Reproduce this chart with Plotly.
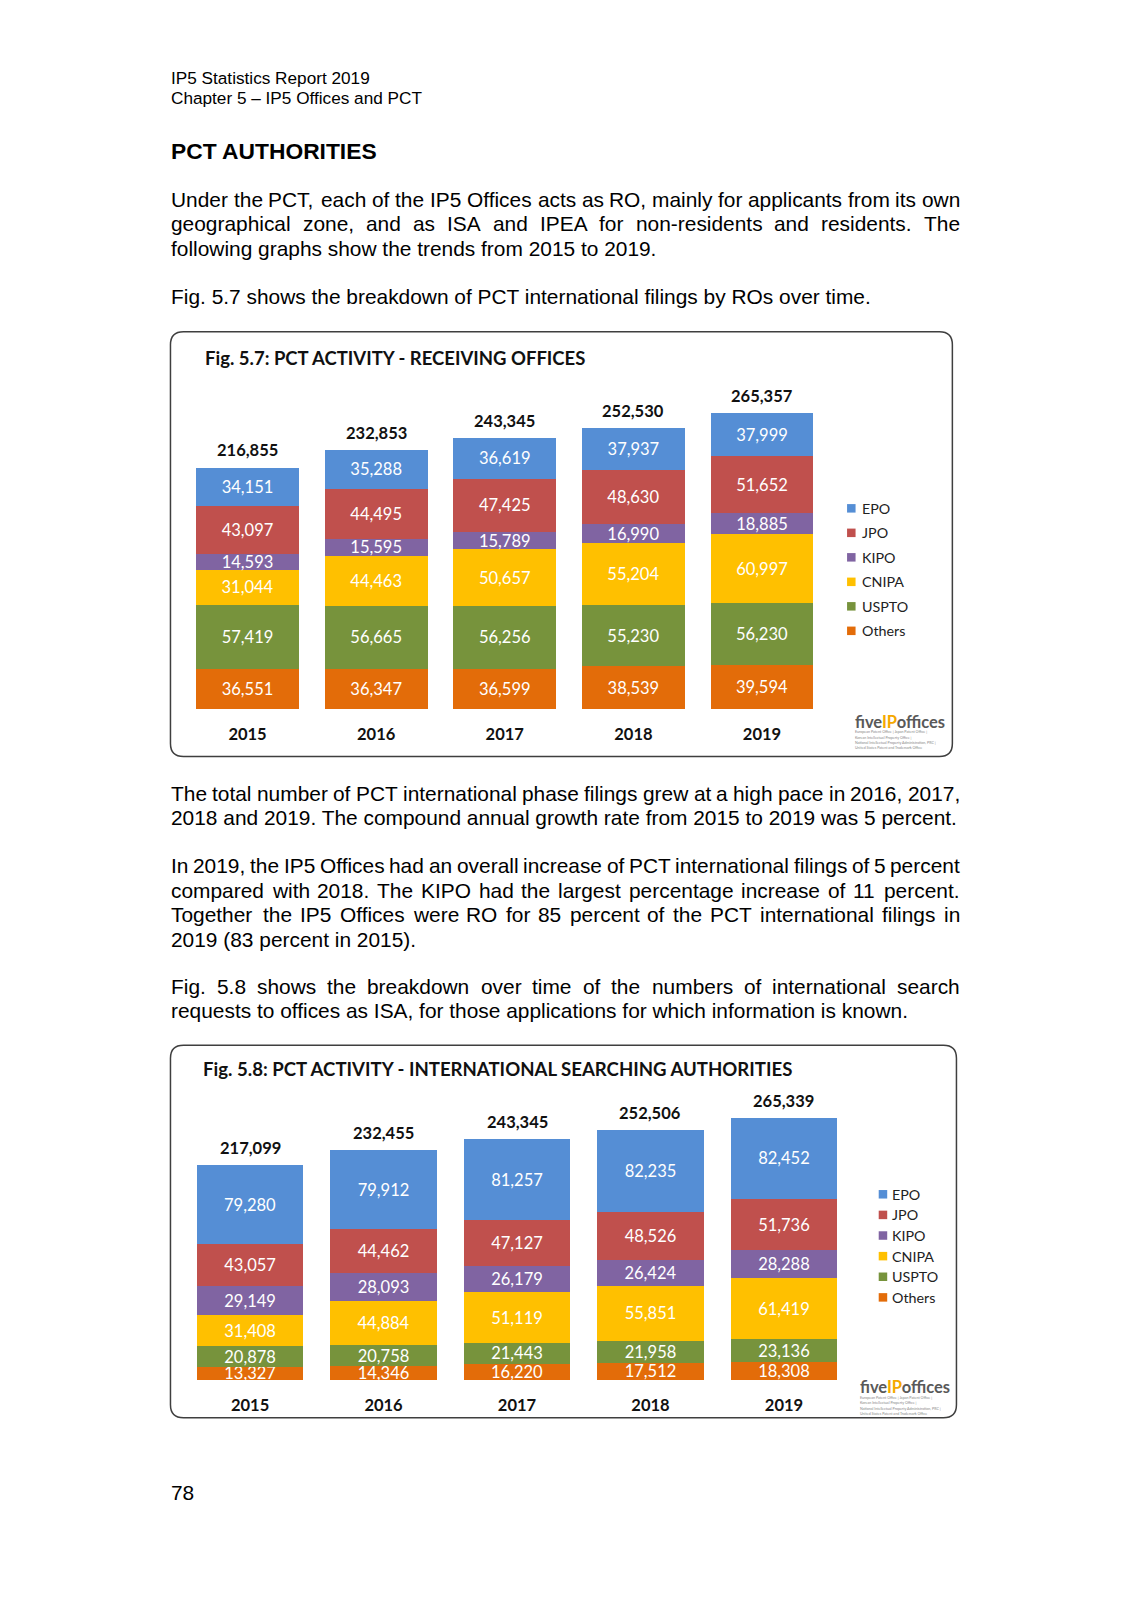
import plotly.graph_objects as go

W, H = 1131, 1600
S = 1131 / 1108.0  # perceived -> true pixel factor

def X(x):  # true px -> paper
    return x / W

def Y(y):
    return 1 - y / H

def p(v):  # perceived estimate -> true px
    return v * S

# ---------------- data ----------------
years = ["2015", "2016", "2017", "2018", "2019"]
offices = ["EPO", "JPO", "KIPO", "CNIPA", "USPTO", "Others"]
colors = {"EPO": "#558ED5", "JPO": "#C0504D", "KIPO": "#8064A2",
          "CNIPA": "#FFC000", "USPTO": "#77933C", "Others": "#E36C09"}

ro_epo = [34151, 35288, 36619, 37937, 37999]
ro_jpo = [43097, 44495, 47425, 48630, 51652]
ro_kipo = [14593, 15595, 15789, 16990, 18885]
ro_cnipa = [31044, 44463, 50657, 55204, 60997]
ro_uspto = [57419, 56665, 56256, 55230, 56230]
ro_others = [36551, 36347, 36599, 38539, 39594]

isa_epo = [79280, 79912, 81257, 82235, 82452]
isa_jpo = [43057, 44462, 47127, 48526, 51736]
isa_kipo = [29149, 28093, 26179, 26424, 28288]
isa_cnipa = [31408, 44884, 51119, 55851, 61419]
isa_uspto = [20878, 20758, 21443, 21958, 23136]
isa_others = [13327, 14346, 16220, 17512, 18308]

ro = {"EPO": ro_epo, "JPO": ro_jpo, "KIPO": ro_kipo, "CNIPA": ro_cnipa,
      "USPTO": ro_uspto, "Others": ro_others}
isa = {"EPO": isa_epo, "JPO": isa_jpo, "KIPO": isa_kipo, "CNIPA": isa_cnipa,
       "USPTO": isa_uspto, "Others": isa_others}

title1 = "Fig. 5.7: PCT ACTIVITY - RECEIVING OFFICES"
title2 = "Fig. 5.8: PCT ACTIVITY - INTERNATIONAL SEARCHING AUTHORITIES"

header1 = "IP5 Statistics Report 2019"
header2 = "Chapter 5 \u2013 IP5 Offices and PCT"
heading = "PCT AUTHORITIES"
page_no = "78"

# (text, perceived y, justified)
body_lines = [
    ("Under the PCT, each of the IP5 Offices acts as RO, mainly for applicants from its own", 195, True),
    ("geographical zone, and as ISA and IPEA for non-residents and residents. The", 219, True),
    ("following graphs show the trends from 2015 to 2019.", 243, False),
    ("Fig. 5.7 shows the breakdown of PCT international filings by ROs over time.", 290, False),
    ("The total number of PCT international phase filings grew at a high pace in 2016, 2017,", 777, True),
    ("2018 and 2019. The compound annual growth rate from 2015 to 2019 was 5 percent.", 801, False),
    ("In 2019, the IP5 Offices had an overall increase of PCT international filings of 5 percent", 848, True),
    ("compared with 2018. The KIPO had the largest percentage increase of 11 percent.", 872, True),
    ("Together the IP5 Offices were RO for 85 percent of the PCT international filings in", 896, True),
    ("2019 (83 percent in 2015).", 920, False),
    ("Fig. 5.8 shows the breakdown over time of the numbers of international search", 966, True),
    ("requests to offices as ISA, for those applications for which information is known.", 990, False),
]

# Arial / Liberation Sans advance widths (1/1000 em)
AW = {' ': 278, ',': 278, '.': 278, '-': 333, '(': 333, ')': 333, ':': 278, '\u2013': 556,
      'A': 667, 'B': 667, 'C': 722, 'D': 722, 'E': 667, 'F': 611, 'G': 778, 'H': 722, 'I': 278,
      'J': 500, 'K': 667, 'L': 556, 'M': 833, 'N': 722, 'O': 778, 'P': 667, 'Q': 778, 'R': 722,
      'S': 667, 'T': 611, 'U': 722, 'V': 667, 'W': 944, 'X': 667, 'Y': 667, 'Z': 611,
      'a': 556, 'b': 556, 'c': 500, 'd': 556, 'e': 556, 'f': 278, 'g': 556, 'h': 556, 'i': 222,
      'j': 222, 'k': 500, 'l': 222, 'm': 833, 'n': 556, 'o': 556, 'p': 556, 'q': 556, 'r': 333,
      's': 500, 't': 278, 'u': 556, 'v': 500, 'w': 722, 'x': 500, 'y': 500, 'z': 500}
for d in "0123456789":
    AW[d] = 556

def tw(s, f):
    return sum(AW.get(c, 556) for c in s) * f / 1000.0

BODY = "Liberation Sans, Arial, sans-serif"
CHART = "Lato, sans-serif"
L_COL, R_COL = 171.0, 960.0
F_BODY = 20.9

fig = go.Figure()
annotations = []
shapes = []

def txt(x, y, text, size, family=BODY, color="black", xanchor="left", weight="normal", **kw):
    annotations.append(dict(x=X(x), y=Y(y), xref="paper", yref="paper", text=text,
                            showarrow=False, xanchor=xanchor, yanchor="middle",
                            borderpad=0, borderwidth=0,
                            font=dict(family=family, size=size, color=color, weight=weight), **kw))

# ---------------- page text ----------------
txt(L_COL, p(76), header1, 17.2)
txt(L_COL, p(96), header2, 17.2)
txt(L_COL, p(148), heading, 22.8, weight="bold")
txt(L_COL, p(1462), page_no, 20.9)

for line, yv, just in body_lines:
    y = p(yv)
    if not just:
        txt(L_COL, y, line, F_BODY)
        continue
    words = line.split(" ")
    total = sum(tw(w, F_BODY) for w in words)
    gap = (R_COL - L_COL - total) / (len(words) - 1)
    x = L_COL
    for w in words:
        txt(x, y, w, F_BODY)
        x += tw(w, F_BODY) + gap

# ---------------- chart frames ----------------
def rrect(x0, y0, x1, y1, r):
    return (f"M {X(x0 + r)},{Y(y0)} L {X(x1 - r)},{Y(y0)} "
            f"Q {X(x1)},{Y(y0)} {X(x1)},{Y(y0 + r)} L {X(x1)},{Y(y1 - r)} "
            f"Q {X(x1)},{Y(y1)} {X(x1 - r)},{Y(y1)} L {X(x0 + r)},{Y(y1)} "
            f"Q {X(x0)},{Y(y1)} {X(x0)},{Y(y1 - r)} L {X(x0)},{Y(y0 + r)} "
            f"Q {X(x0)},{Y(y0)} {X(x0 + r)},{Y(y0)} Z")

for (x0, y0, x1, y1) in [(167, 325, 933, 741), (167, 1024, 937, 1389)]:
    shapes.append(dict(type="path", xref="paper", yref="paper",
                       path=rrect(p(x0), p(y0), p(x1), p(y1), 13),
                       line=dict(color="#3F3F3F", width=1.5), fillcolor="rgba(0,0,0,0)"))

txt(p(201), p(351), title1, 18.5, family=CHART, weight="bold", color="#111111")
txt(p(199), p(1047), title2, 18.6, family=CHART, weight="bold", color="#111111")

# ---------------- bars ----------------
stack_order = ["Others", "USPTO", "CNIPA", "KIPO", "JPO", "EPO"]
LBL = 16.2 * S

def add_chart(data, xa, ya):
    for off in stack_order:
        vals = data[off]
        fig.add_trace(go.Bar(
            x=years, y=vals, name=off, marker=dict(color=colors[off], line=dict(width=0)),
            text=[f"{v:,}" for v in vals], textposition="inside", insidetextanchor="middle",
            textangle=0, constraintext="none",
            textfont=dict(family=CHART, size=LBL, color="white"),
            xaxis=xa, yaxis=ya, showlegend=False, hoverinfo="skip"))
    totals = [sum(data[o][i] for o in offices) for i in range(len(years))]
    for i, t in enumerate(totals):
        annotations.append(dict(x=i, y=t, xref=xa, yref=ya, text=f"{t:,}", showarrow=False,
                                xanchor="center", yanchor="bottom", yshift=5 * S,
                                font=dict(family=CHART, size=16.2 * S, color="#111111", weight="bold")))

add_chart(ro, "x", "y")
add_chart(isa, "x2", "y2")

# ---------------- legends ----------------
def legend(x_sq, x_txt, y0, dy, sq):
    for i, off in enumerate(offices):
        y = p(y0 + i * dy)
        shapes.append(dict(type="rect", xref="paper", yref="paper",
                           x0=X(p(x_sq) - sq / 2), x1=X(p(x_sq) + sq / 2),
                           y0=Y(y - sq / 2), y1=Y(y + sq / 2),
                           fillcolor=colors[off], line=dict(width=0)))
        txt(p(x_txt), y, off, 14.3, family=CHART, color="#222222")

legend(834, 844, 498, 24, 8.5)
legend(865, 874, 1170, 20.2, 8.5)

# ---------------- logos ----------------
logo = ("<span style='color:#595959'>five</span><span style='color:#F5A800'>IP</span>"
        "<span style='color:#595959'>offices</span>")
tiny = ["European Patent Office | Japan Patent Office |",
        "Korean Intellectual Property Office |",
        "National Intellectual Property Administration, PRC |",
        "United States Patent and Trademark Office"]

def add_logo(x, y):
    txt(p(x), p(y), logo, 16.5, family=CHART, weight="bold")
    for i, t in enumerate(tiny):
        txt(p(x), p(y + 10 + i * 5.2), t, 3.6, family=CHART, color="#888888")

add_logo(838, 707)
add_logo(843, 1359)

# ---------------- axes ----------------
def xdom(a, b):
    return [X(p(a)), X(p(b))]

def ydom(base, top):
    return [Y(p(base)), Y(p(top))]

YMAX = 300000
top1 = 695 - YMAX * (695 - 405) / 265357.0
top2 = 1352 - YMAX * (1352 - 1095) / 265339.0

axis_x = dict(type="category", range=[-0.5, 4.5], showgrid=False, zeroline=False,
              showline=False, ticks="", fixedrange=True,
              tickfont=dict(family=CHART, size=16.2 * S, color="#111111", weight="bold"))
axis_y = dict(range=[0, YMAX], visible=False, showgrid=False, zeroline=False, fixedrange=True)

fig.update_layout(
    width=W, height=H, autosize=False,
    margin=dict(l=0, r=0, t=0, b=0, pad=0),
    paper_bgcolor="white", plot_bgcolor="rgba(0,0,0,0)",
    barmode="stack", bargap=0.2,
    showlegend=False,
    uniformtext=dict(minsize=LBL, mode="show"),
    font=dict(family=BODY, color="black"),
    xaxis=dict(domain=xdom(179.5, 809.5), anchor="y", ticklabelstandoff=13, **axis_x),
    yaxis=dict(domain=ydom(695, top1), anchor="x", **axis_y),
    xaxis2=dict(domain=xdom(179.6, 833.4), anchor="y2", ticklabelstandoff=13, **axis_x),
    yaxis2=dict(domain=ydom(1352, top2), anchor="x2", **axis_y),
    annotations=annotations,
    shapes=shapes,
)

fig.write_html("out.html",
               config={"displayModeBar": False, "staticPlot": True},
               post_script="document.body.style.margin='0';document.body.style.padding='0';")
